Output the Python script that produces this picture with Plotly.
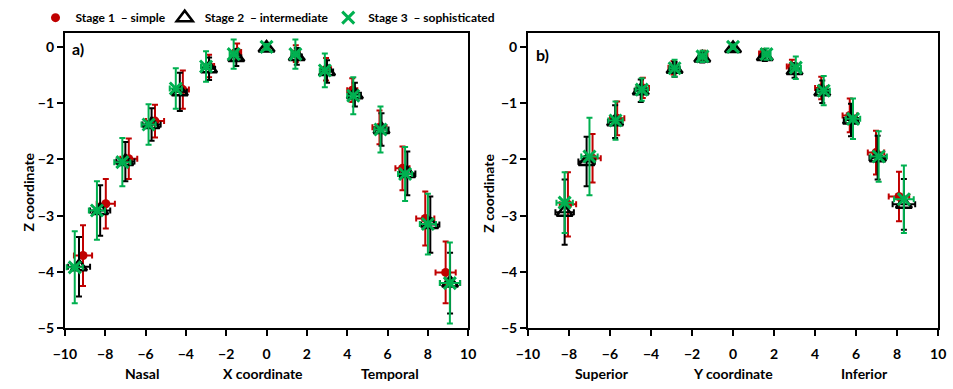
import plotly.graph_objects as go

# ---------------- data ----------------
stage_names = ["Stage 1  \u2013 simple", "Stage 2  \u2013 intermediate", "Stage 3  \u2013 sophisticated"]

# Panel a (X coordinate vs Z)
a_s1_x = [-9.1, -7.97, -6.83, -5.53, -4.15, -2.85, -1.46, 0, 1.45, 2.95, 4.25, 5.6, 6.74, 7.87, 8.88]
a_s1_z = [-3.71, -2.79, -1.99, -1.32, -0.76, -0.34, -0.09, 0, -0.12, -0.4, -0.77, -1.43, -2.16, -3.05, -4.01]
a_s1_ez = [0.54, 0.44, 0.36, 0.29, 0.34, 0.2, 0.15, 0.05, 0.15, 0.2, 0.21, 0.3, 0.39, 0.48, 0.55]
a_s1_ex = [0.45, 0.45, 0.42, 0.45, 0.3, 0.25, 0.2, 0.1, 0.2, 0.25, 0.25, 0.35, 0.35, 0.45, 0.5]

a_s2_x = [-9.3, -8.25, -7.0, -5.7, -4.3, -2.85, -1.5, 0, 1.5, 3.0, 4.38, 5.7, 6.98, 8.12, 9.1]
a_s2_z = [-3.91, -2.91, -2.04, -1.38, -0.8, -0.39, -0.19, -0.02, -0.17, -0.44, -0.85, -1.47, -2.25, -3.16, -4.2]
a_s2_ez = [0.53, 0.45, 0.35, 0.29, 0.34, 0.2, 0.15, 0.05, 0.15, 0.2, 0.21, 0.29, 0.39, 0.5, 0.54]
a_s2_ex = [0.55, 0.5, 0.45, 0.45, 0.35, 0.3, 0.25, 0.1, 0.25, 0.3, 0.3, 0.35, 0.4, 0.45, 0.5]

a_s3_x = [-9.51, -8.41, -7.15, -5.85, -4.5, -3.0, -1.63, 0, 1.43, 2.89, 4.3, 5.65, 6.87, 8.0, 9.09]
a_s3_z = [-3.92, -2.91, -2.05, -1.38, -0.74, -0.35, -0.13, 0, -0.13, -0.42, -0.87, -1.47, -2.26, -3.15, -4.2]
a_s3_ez = [0.64, 0.52, 0.43, 0.36, 0.36, 0.27, 0.26, 0.05, 0.26, 0.3, 0.33, 0.41, 0.48, 0.54, 0.72]
a_s3_ex = [0.4, 0.4, 0.4, 0.35, 0.3, 0.25, 0.2, 0.1, 0.2, 0.25, 0.3, 0.3, 0.35, 0.4, 0.5]

# Panel b (Y coordinate vs Z)
b_s1_y = [-8.05, -6.85, -5.65, -4.4, -2.9, -1.45, 0, 1.47, 2.87, 4.3, 5.69, 6.97, 8.09]
b_s1_z = [-2.8, -1.98, -1.27, -0.73, -0.37, -0.15, 0, -0.12, -0.35, -0.73, -1.22, -1.88, -2.66]
b_s1_ez = [0.57, 0.43, 0.3, 0.18, 0.12, 0.08, 0.04, 0.08, 0.12, 0.2, 0.3, 0.39, 0.44]
b_s1_ex = [0.4, 0.4, 0.35, 0.3, 0.25, 0.2, 0.1, 0.2, 0.25, 0.3, 0.35, 0.4, 0.5]

b_s2_y = [-8.21, -7.14, -5.75, -4.5, -2.85, -1.5, 0, 1.55, 3.0, 4.35, 5.75, 7.05, 8.33]
b_s2_z = [-2.94, -2.04, -1.33, -0.78, -0.4, -0.2, -0.03, -0.17, -0.42, -0.8, -1.3, -1.97, -2.8]
b_s2_ez = [0.58, 0.44, 0.29, 0.2, 0.13, 0.08, 0.04, 0.08, 0.13, 0.2, 0.29, 0.39, 0.45]
b_s2_ex = [0.45, 0.4, 0.35, 0.3, 0.25, 0.2, 0.1, 0.2, 0.25, 0.3, 0.35, 0.4, 0.55]

b_s3_y = [-8.21, -7.0, -5.73, -4.45, -2.85, -1.49, 0, 1.63, 3.06, 4.42, 5.85, 7.1, 8.33]
b_s3_z = [-2.77, -1.95, -1.31, -0.76, -0.38, -0.17, 0, -0.13, -0.37, -0.78, -1.28, -1.95, -2.71]
b_s3_ez = [0.54, 0.69, 0.34, 0.2, 0.15, 0.1, 0.04, 0.1, 0.2, 0.26, 0.36, 0.45, 0.6]
b_s3_ex = [0.4, 0.4, 0.35, 0.3, 0.25, 0.2, 0.1, 0.2, 0.25, 0.3, 0.35, 0.4, 0.48]

x_ticks = [-10, -8, -6, -4, -2, 0, 2, 4, 6, 8, 10]
z_ticks = [0, -1, -2, -3, -4, -5]

# ---------------- styling ----------------
RED = "#C00000"
GREEN = "#00B050"
BLACK = "#000000"
FONT = "Lato"
W, H = 953, 389

styles = [
    dict(color=RED, marker=dict(symbol="circle", size=9, color=RED)),
    dict(color=BLACK, marker=dict(symbol="triangle-up-open", size=14, color=BLACK, line=dict(width=2.5, color=BLACK))),
    dict(color=GREEN, marker=dict(symbol="x-thin-open", size=12, color=GREEN, line=dict(width=3, color=GREEN))),
]
legend_ids = ["legend", "legend2", "legend3"]

fig = go.Figure()

panel_a = [(a_s1_x, a_s1_z, a_s1_ex, a_s1_ez), (a_s2_x, a_s2_z, a_s2_ex, a_s2_ez), (a_s3_x, a_s3_z, a_s3_ex, a_s3_ez)]
panel_b = [(b_s1_y, b_s1_z, b_s1_ex, b_s1_ez), (b_s2_y, b_s2_z, b_s2_ex, b_s2_ez), (b_s3_y, b_s3_z, b_s3_ex, b_s3_ez)]

for panel, (xa, ya, show) in [(panel_a, ("x", "y", True)), (panel_b, ("x2", "y2", False))]:
    for i, (xs, zs, ex, ez) in enumerate(panel):
        st = styles[i]
        fig.add_trace(go.Scatter(
            x=xs, y=zs, mode="markers", name=stage_names[i],
            xaxis=xa, yaxis=ya, showlegend=show, legend=legend_ids[i],
            marker=st["marker"],
            error_y=dict(type="data", array=ez, color=st["color"], thickness=2, width=3),
            error_x=dict(type="data", array=ex, color=st["color"], thickness=2, width=3),
        ))

axis_common = dict(
    showgrid=False, zeroline=False, showline=True, linecolor="black", linewidth=2,
    mirror=True, ticks="outside", ticklen=6, tickwidth=2, tickcolor="black",
    tickfont=dict(family=FONT, size=14, color="black", weight="bold"),
)
xaxis_extra = dict(ticklabelstandoff=6)

legend_font = dict(family=FONT, size=12, color="black", weight="bold")
def legend_at(px_left):
    return dict(orientation="h", x=px_left / W, xanchor="left", y=1 - 18 / H, yanchor="middle",
                font=legend_font, itemwidth=30, bgcolor="rgba(0,0,0,0)", borderwidth=0)

fig.update_layout(
    width=W, height=H,
    margin=dict(l=0, r=0, t=0, b=0),
    paper_bgcolor="white", plot_bgcolor="white",
    font=dict(family=FONT, color="black"),
    xaxis=dict(domain=[54 / W, 466 / W], range=[-10, 10], tickvals=x_ticks, anchor="y", **axis_common, **xaxis_extra),
    yaxis=dict(domain=[1 - 335 / H, 1 - 33.5 / H], range=[-5, 0.25], tickvals=z_ticks, anchor="x", **axis_common),
    xaxis2=dict(domain=[527 / W, 946 / W], range=[-10, 10], tickvals=x_ticks, anchor="y2", **axis_common, **xaxis_extra),
    yaxis2=dict(domain=[1 - 335 / H, 1 - 33.5 / H], range=[-5, 0.25], tickvals=z_ticks, anchor="x2", **axis_common),
    legend=legend_at(24),
    legend2=legend_at(156),
    legend3=legend_at(323),
)

bold = dict(family=FONT, size=14, color="black", weight="bold")
def ann(text, xref, x, y_px, **kw):
    d = dict(text=text, xref=xref, yref="paper", x=x, y=1 - y_px / H, showarrow=False,
             xanchor="center", yanchor="middle", font=bold)
    d.update(kw)
    return d

annots = [
    ann("a)", "paper", 67 / W, 50, font=dict(family=FONT, size=16, color="black", weight="bold")),
    ann("b)", "paper", 542 / W, 56, font=dict(family=FONT, size=16, color="black", weight="bold")),
    ann("Z coordinate", "paper", 17 / W, 196, textangle=-90),
    ann("Z coordinate", "paper", 487 / W, 197, textangle=-90),
    ann("Nasal", "x", -6.2, 381),
    ann("X coordinate", "x", -0.2, 381),
    ann("Temporal", "x", 6.1, 381),
    ann("Superior", "x2", -6.4, 381),
    ann("Y coordinate", "x2", 0.0, 381),
    ann("Inferior", "x2", 6.4, 381),
]
fig.update_layout(annotations=annots)

fig.write_html("out.html")
